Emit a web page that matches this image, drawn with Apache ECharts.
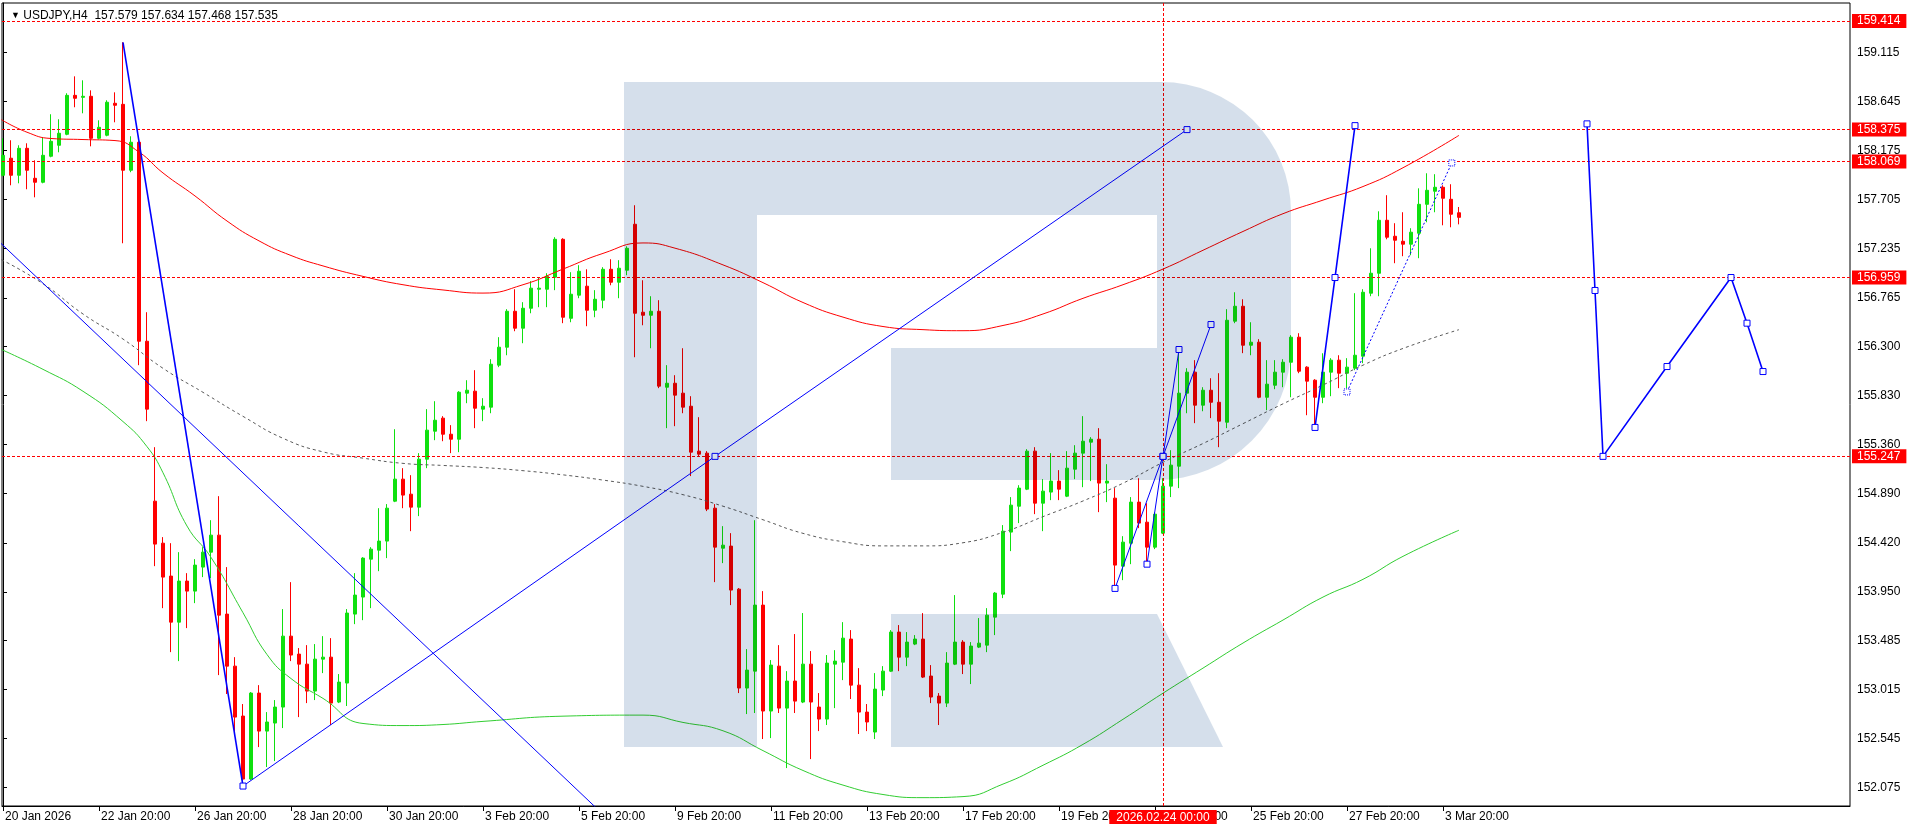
<!DOCTYPE html>
<html><head><meta charset="utf-8">
<script src="https://cdn.jsdelivr.net/npm/echarts@6/dist/echarts.min.js"></script>
<style>html,body{margin:0;padding:0;background:#fff;}#c{width:1914px;height:830px;}</style>
</head><body><div id="c"></div>
<script>
const symbolName = 'USDJPY,H4';
const open = [157.938,158.101,157.938,158.196,157.909,157.871,158.120,158.225,158.330,158.703,
158.684,158.694,158.292,158.321,158.627,158.617,157.986,158.254,156.349,154.818,
154.416,154.101,153.660,154.053,153.957,154.187,154.330,154.493,153.737,153.239,
152.761,152.158,152.981,152.617,152.694,152.847,153.526,153.354,153.258,153.000,
153.306,153.325,152.895,153.077,153.737,153.900,154.263,154.349,154.436,154.818,
155.029,154.885,154.761,155.220,155.488,155.613,155.459,155.411,155.852,155.871,
155.699,155.718,156.120,156.292,156.636,156.474,156.665,156.847,156.847,156.962,
157.325,156.569,156.790,156.876,156.646,156.742,157.038,156.914,157.029,157.469,
156.627,156.598,156.636,155.909,155.947,155.852,155.727,155.297,155.278,154.751,
154.368,154.388,153.976,153.029,153.191,153.823,152.809,153.239,152.837,153.096,
152.895,153.258,152.847,152.732,153.258,153.277,153.498,153.057,152.799,152.608,
153.010,153.191,153.565,153.325,153.450,153.498,153.144,152.952,152.885,153.258,
153.469,153.258,153.421,153.440,153.708,153.928,154.522,154.770,154.933,155.297,
154.799,154.905,155.010,154.866,155.124,155.278,155.383,155.411,154.991,154.847,
154.196,154.416,154.809,154.617,154.378,154.512,154.962,155.153,155.852,156.053,
155.737,155.880,155.765,155.574,156.541,156.684,156.311,156.340,155.813,155.928,
156.053,156.148,156.388,156.101,155.976,155.813,156.053,156.168,156.043,156.091,
156.206,156.809,157.000,157.507,157.354,157.306,157.278,157.383,157.660,157.785,
157.823,157.708,157.579];
const close = [158.129,157.938,158.196,157.986,157.871,158.129,158.263,158.340,158.703,158.675,
158.694,158.292,158.397,158.637,158.608,157.986,158.254,156.349,155.699,154.407,
154.091,153.660,154.053,153.957,154.206,154.330,154.493,153.727,153.239,152.751,
152.158,152.981,152.617,152.704,152.847,153.526,153.345,153.258,153.000,153.306,
153.325,152.885,153.086,153.747,153.919,154.273,154.359,154.436,154.751,155.029,
154.876,154.761,155.220,155.498,155.593,155.459,155.411,155.861,155.880,155.708,
155.727,156.129,156.292,156.636,156.474,156.665,156.857,156.857,156.971,157.325,
156.579,156.799,157.019,156.646,156.751,157.038,156.914,157.048,157.239,156.617,
156.598,156.636,155.919,155.947,155.833,155.718,155.287,155.268,154.742,154.378,
154.397,153.967,153.029,153.201,153.823,152.809,153.249,152.837,153.096,152.904,
153.258,152.895,152.732,153.268,153.287,153.507,153.057,152.799,152.704,153.019,
153.191,153.565,153.325,153.469,153.498,153.134,152.943,152.885,153.268,153.469,
153.258,153.431,153.459,153.727,153.938,154.531,154.780,154.943,155.297,154.799,
154.914,155.010,154.933,155.134,155.278,155.392,155.411,154.991,155.010,154.206,
154.426,154.809,154.608,154.378,154.694,154.962,155.163,155.852,156.053,155.737,
155.880,155.765,155.584,156.550,156.684,156.311,156.340,155.813,155.938,156.053,
156.148,156.388,156.062,155.967,155.813,156.053,156.168,156.043,156.101,156.215,
156.818,157.000,157.507,157.345,157.316,157.278,157.393,157.660,157.794,157.823,
157.718,157.565,157.535];
const low = [157.928,157.842,157.861,157.804,157.727,157.861,158.110,158.158,158.321,158.589,
158.531,158.215,158.282,158.311,158.445,157.287,157.967,156.120,155.584,154.196,
153.794,153.373,153.287,153.603,153.842,154.091,154.081,153.153,152.972,152.598,
152.120,152.148,152.464,152.273,152.330,152.646,153.287,152.751,152.885,152.914,
153.172,152.675,152.885,152.857,153.641,153.679,153.794,154.148,154.273,154.809,
154.751,154.531,154.675,155.134,155.402,155.392,155.278,155.287,155.756,155.517,
155.584,155.660,156.101,156.215,156.445,156.330,156.617,156.675,156.675,156.838,
156.522,156.531,156.761,156.493,156.579,156.665,156.885,156.761,156.981,156.196,
156.502,156.282,155.900,155.517,155.536,155.660,155.058,155.249,154.723,154.043,
154.225,153.823,152.981,152.780,152.790,152.541,152.550,152.790,152.263,152.790,
152.885,152.349,152.617,152.675,152.837,153.105,152.924,152.589,152.617,152.541,
152.952,153.182,153.191,153.239,153.440,153.125,152.885,152.675,152.847,153.249,
153.163,153.067,153.412,153.373,153.536,153.890,154.340,154.608,154.924,154.694,
154.531,154.828,154.828,154.857,155.029,154.952,155.010,154.713,154.809,153.995,
154.062,154.215,154.560,154.225,154.359,154.503,154.857,154.943,155.660,155.565,
155.679,155.613,155.335,155.517,156.522,156.235,156.215,155.804,155.689,155.890,
155.909,155.813,156.043,155.641,155.546,155.756,155.823,155.900,155.900,156.072,
156.139,156.780,156.780,157.325,157.096,157.163,157.172,157.144,157.488,157.584,
157.459,157.440,157.468];
const high = [158.292,158.273,158.225,158.244,158.081,158.302,158.522,158.474,158.723,158.885,
158.847,158.751,158.464,158.656,158.732,159.211,158.311,158.263,156.627,155.335,
154.474,154.416,154.330,154.129,154.263,154.378,154.636,154.866,154.187,153.325,
152.876,152.991,153.057,152.799,152.914,153.785,154.043,153.412,153.440,153.450,
153.526,153.507,153.163,153.785,154.129,154.282,154.378,154.751,154.790,155.507,
155.134,155.067,155.278,155.699,155.775,155.632,155.546,155.871,155.976,156.072,
155.804,156.177,156.388,156.656,156.847,156.723,156.924,156.962,157.000,157.345,
157.335,157.010,157.077,157.038,156.838,157.058,157.134,157.125,157.258,157.651,
156.933,156.780,156.742,156.120,156.024,156.282,155.823,155.622,155.297,154.790,
154.579,154.512,153.986,153.402,154.636,153.957,153.297,153.440,153.191,153.546,
153.747,153.383,152.981,153.345,153.392,153.660,153.584,153.220,152.876,153.172,
153.239,153.584,153.632,153.565,153.536,153.747,153.249,152.981,153.373,153.919,
153.488,153.469,153.699,153.794,153.948,154.589,154.857,154.971,155.316,155.335,
155.029,155.278,155.115,155.297,155.354,155.632,155.431,155.517,155.172,154.943,
154.483,154.857,155.038,154.799,154.713,155.038,155.306,156.234,156.091,156.168,
155.909,155.995,156.043,156.656,156.818,156.751,156.531,156.369,156.168,156.168,
156.177,156.407,156.426,156.110,155.986,156.234,156.187,156.215,156.187,156.809,
156.847,157.239,157.593,157.747,157.479,157.584,157.431,157.813,157.957,157.948,
157.842,157.852,157.634];

const tickBars = [0,12,24,36,48,60,72,84,96,108,120,132,144,156,168,180];
const tickLabels = ['20 Jan 2026','22 Jan 20:00','26 Jan 20:00','28 Jan 20:00','30 Jan 20:00','3 Feb 20:00','5 Feb 20:00','9 Feb 20:00','11 Feb 20:00','13 Feb 20:00','17 Feb 20:00','19 Feb 20:00','23 Feb 20:00','25 Feb 20:00','27 Feb 20:00','3 Mar 20:00'];
const priceTicks = [159.115,158.645,158.175,157.705,157.235,156.765,156.300,155.830,155.360,154.890,154.420,153.950,153.485,153.015,152.545,152.075];
const levels = [159.414,158.375,158.069,156.959,155.247];
const crossBar = 145;
const crossLabel = '2026.02.24 00:00';

const redMA = [[-0.2,158.47],[3,158.35],[6,158.29],[10,158.28],[14,158.27],[17,158.16],[20,157.96],[24,157.74],[28,157.50],[32,157.31],[36,157.17],[40,157.07],[45,156.97],[50,156.89],[55,156.84],[60,156.81],[65,156.89],[70,157.04],[75,157.19],[80,157.29],[84,157.24],[90,157.08],[95,156.91],[100,156.72],[105,156.58],[110,156.49],[115,156.46],[120,156.45],[125,156.50],[130,156.61],[135,156.76],[140,156.89],[145,157.04],[150,157.22],[155,157.40],[160,157.57],[165,157.70],[170,157.83],[175,158.01],[182,158.32]];
const greyMA = [[-0.2,157.13],[5,156.90],[10,156.61],[15,156.37],[20,156.09],[25,155.86],[30,155.63],[35,155.42],[40,155.29],[45,155.23],[50,155.18],[55,155.16],[60,155.14],[65,155.11],[70,155.07],[75,155.02],[80,154.96],[85,154.88],[90,154.77],[95,154.64],[100,154.51],[105,154.43],[110,154.39],[115,154.39],[120,154.42],[125,154.52],[130,154.67],[135,154.82],[140,154.99],[145,155.19],[150,155.37],[155,155.56],[160,155.75],[165,155.93],[170,156.12],[175,156.28],[182,156.46]];
const greenMA = [[-0.2,156.27],[5,156.08],[10,155.87],[15,155.58],[18,155.34],[20,155.09],[23,154.58],[26,154.28],[30,153.75],[33,153.35],[36,153.12],[40,152.93],[45,152.69],[50,152.67],[55,152.68],[60,152.71],[70,152.76],[80,152.77],[85,152.70],[90,152.62],[95,152.43],[100,152.24],[105,152.10],[110,152.01],[115,151.98],[120,151.99],[125,152.11],[130,152.29],[135,152.49],[140,152.73],[145,152.98],[150,153.22],[155,153.46],[160,153.68],[165,153.90],[170,154.07],[175,154.29],[182,154.54]];

const trendA = [[-1,157.34],[75,151.82]];
const trendB = [[15,159.211],[30,152.091]];
const trendC = [[30,152.091],[89,155.247],[148,158.375]];
const zigA = [[139,153.983],[145,155.247],[151,156.509]];
const zigB = [[143,154.215],[145,155.247],[147,156.270]];
const waveE = [[164,155.524],[166.5,156.959],[169,158.413]];
const dotF = [[168,155.864],[181.1,158.056]];
const forecastG = [[198,158.43],[199,156.835],[200,155.247],[208,156.107],[216,156.959],[218,156.522],[220,156.059]];

const FONT = "'Liberation Sans', Arial, sans-serif";
const n = open.length;
const candles = open.map((o, i) => [i, o, close[i], low[i], high[i]]);
const last = n - 1;
const titleText = '{t|\u25BC} ' + symbolName + '  ' + [open[last], high[last], low[last], close[last]].map(v => v.toFixed(3)).join(' ');

const BLUE = '#0000ff';
function blueLine(data, opts) {
  opts = opts || {};
  return {
    type: 'line', data: data, smooth: false, animation: false, silent: true, z: 5,
    symbol: opts.marks === false ? 'none' : 'rect', symbolSize: 6, showSymbol: opts.marks !== false,
    itemStyle: { color: '#ffffff', borderColor: BLUE, borderWidth: 1, borderType: opts.dash ? 'dotted' : 'solid' },
    lineStyle: { color: BLUE, width: opts.width || 1, type: opts.dash ? [2, 2] : 'solid' }
  };
}
function maLine(data, color, type) {
  return { type: 'line', data: data, smooth: 0.5, symbol: 'none', showSymbol: false,
    animation: false, silent: true, z: 4, lineStyle: { color: color, width: 1, type: type || 'solid' } };
}

const levelLines = levels.map(v => ({
  yAxis: v,
  lineStyle: { color: '#ff0000', type: [3, 2], width: 1 },
  label: { show: true, position: 'end', distance: 2, formatter: v.toFixed(3), backgroundColor: '#ff0000', color: '#ffffff',
    fontFamily: FONT, fontSize: 12, padding: [1, 6, 0, 5], lineHeight: 13 }
}));
levelLines.push({
  yAxis: close[last],
  lineStyle: { opacity: 0 },
  label: { show: true, position: 'end', distance: 2, formatter: close[last].toFixed(3), backgroundColor: '#000000', color: '#ffffff',
    fontFamily: FONT, fontSize: 12, padding: [1, 6, 0, 5], lineHeight: 13 }
});
levelLines.push({
  xAxis: crossBar,
  lineStyle: { color: '#ff0000', type: [3, 2], width: 1 },
  label: { show: true, position: 'start', distance: 4, formatter: crossLabel, backgroundColor: '#ff0000', color: '#ffffff',
    fontFamily: FONT, fontSize: 12, padding: [1, 7, 0, 7], lineHeight: 13 }
});

const LOGO = '#d5dfeb';
const logoStyle = { fill: LOGO, blend: 'multiply' };

const option = {
  backgroundColor: '#ffffff',
  animation: false,
  title: { text: titleText, left: 6, top: 5, textStyle: { fontFamily: FONT, fontSize: 12, fontWeight: 'normal', color: '#000',
    rich: { t: { fontSize: 9, color: '#000' } } } },
  grid: { left: 2, top: 3, width: 1848, height: 803, show: true, borderColor: '#000', borderWidth: 1, backgroundColor: 'transparent' },
  xAxis: {
    type: 'value', min: -0.125, max: 230.875, splitLine: { show: false },
    axisLine: { show: true, lineStyle: { color: '#000', width: 1 } },
    axisTick: { show: true, customValues: tickBars, length: 5, lineStyle: { color: '#000' } },
    axisLabel: { customValues: tickBars, align: 'left', margin: 5, padding: [0, 0, 0, 2], color: '#000', fontFamily: FONT, fontSize: 12,
      formatter: v => tickLabels[tickBars.indexOf(Math.round(v))] || '' }
  },
  yAxis: {
    type: 'value', position: 'right', min: 151.900, max: 159.587, scale: true, splitLine: { show: false },
    axisLine: { show: true, lineStyle: { color: '#000', width: 1 } },
    axisTick: { show: true, customValues: priceTicks, length: 4, lineStyle: { color: '#000' } },
    axisLabel: { customValues: priceTicks, margin: 7, color: '#000', fontFamily: FONT, fontSize: 12, formatter: v => v.toFixed(3) }
  },
  graphic: { elements: [
    { type: 'rect', silent: true, z: 100, shape: { x: 624, y: 82, width: 133, height: 665 }, style: logoStyle },
    { type: 'rect', silent: true, z: 100, shape: { x: 757, y: 82, width: 400, height: 133 }, style: logoStyle },
    { type: 'rect', silent: true, z: 100, shape: { x: 1157, y: 82, width: 134, height: 398, r: [0, 130, 134, 0] }, style: logoStyle },
    { type: 'rect', silent: true, z: 100, shape: { x: 891, y: 348, width: 266, height: 132 }, style: logoStyle },
    { type: 'polygon', silent: true, z: 100, shape: { points: [[891, 614], [1157, 614], [1223, 747], [891, 747]] }, style: logoStyle }
  ] },
  series: [
    {
      type: 'candlestick', data: candles, barWidth: 4, animation: false, silent: true, z: 3,
      itemStyle: { color: '#0fe00f', color0: '#ff0000', borderColor: '#0fe00f', borderColor0: '#ff0000', borderWidth: 1 },
      markLine: { symbol: ['none', 'none'], silent: true, animation: false, precision: 3, data: levelLines }
    },
    maLine(redMA, '#ff0000'),
    maLine(greyMA, '#5a5a5a', [3, 3]),
    maLine(greenMA, '#32cd32'),
    blueLine(trendA, { marks: false }),
    blueLine(trendB, { marks: false, width: 1.6 }),
    blueLine(trendC),
    blueLine(zigA),
    blueLine(zigB),
    blueLine(waveE, { width: 1.6 }),
    blueLine(dotF, { dash: true }),
    blueLine(forecastG, { width: 1.6 })
  ]
};
const chart = echarts.init(document.getElementById('c'), null, { renderer: 'canvas', width: 1914, height: 830 });
chart.setOption(option);
</script>
</body></html>
